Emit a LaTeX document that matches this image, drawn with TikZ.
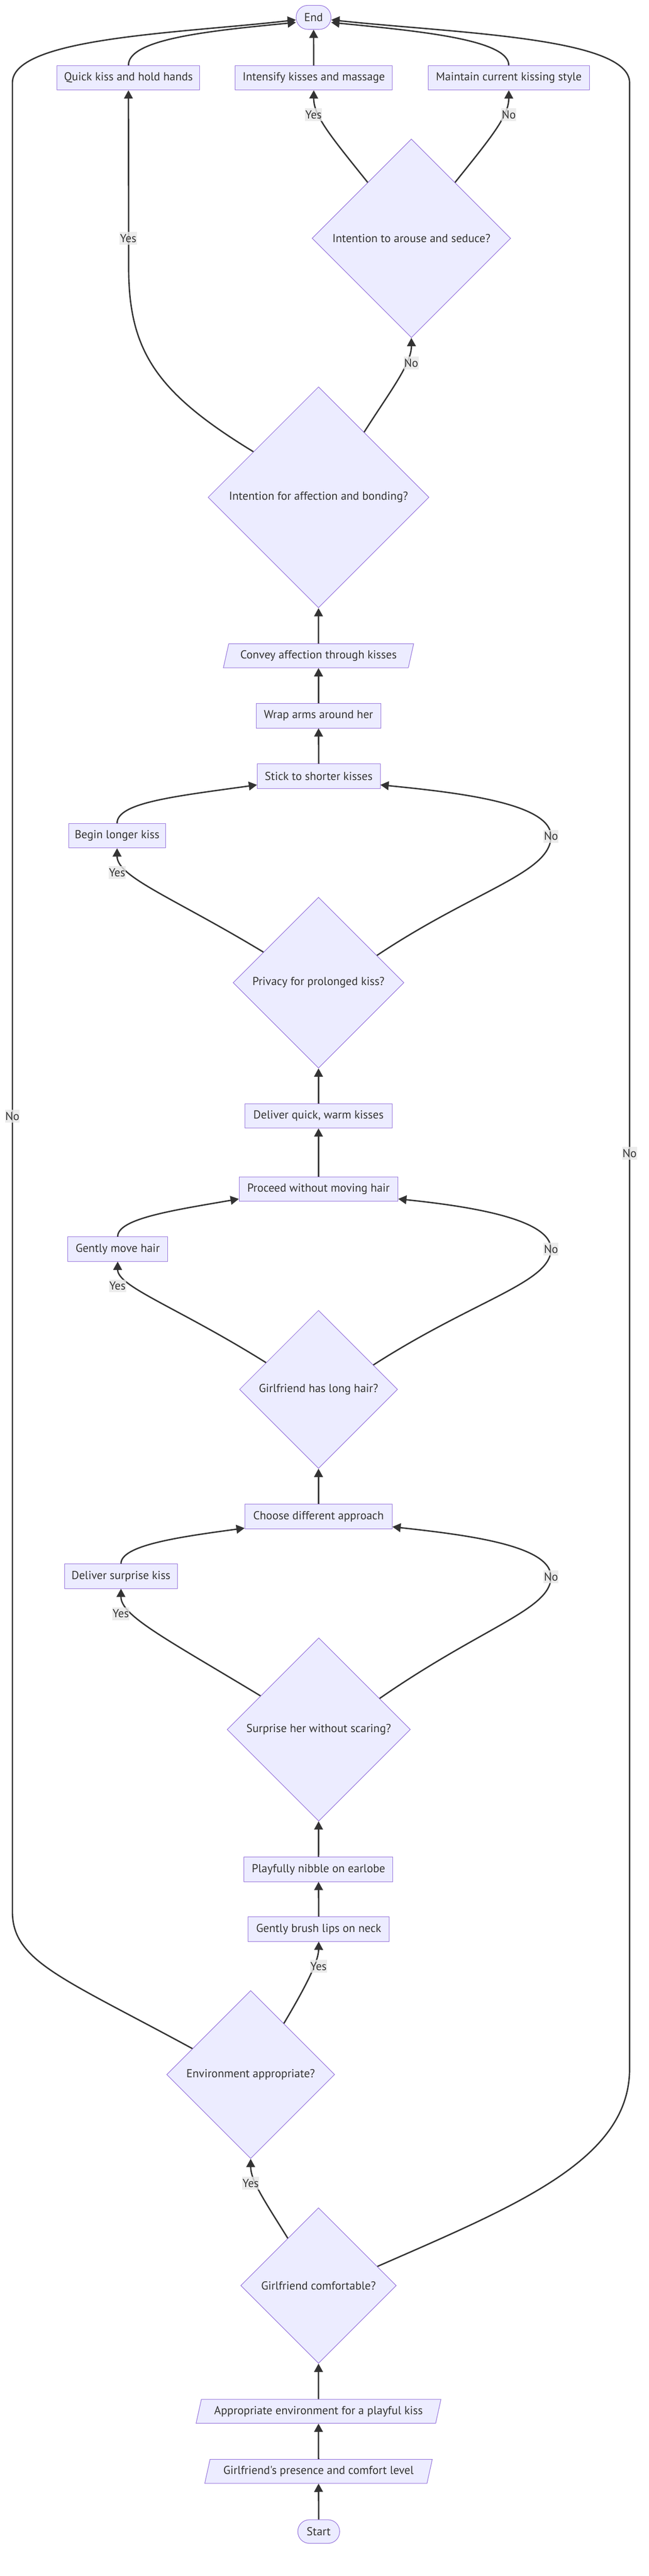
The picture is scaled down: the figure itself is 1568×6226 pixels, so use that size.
\documentclass[tikz,border=0pt]{standalone}
\usepackage{fontspec}
\setmainfont{PT Sans}[Ligatures=TeXOff]
\usetikzlibrary{shapes.geometric,arrows.meta}
\definecolor{nodefill}{HTML}{ECECFF}
\definecolor{nodeline}{HTML}{9370DB}
\definecolor{edgecol}{HTML}{333333}
\definecolor{txt}{HTML}{333333}
\definecolor{lblbg}{HTML}{E8E8E8}
\begin{document}
\begin{tikzpicture}[x=1pt,y=-1pt,
  every node/.style={font=\fontsize{28}{34}\selectfont, text=txt},
  box/.style={rectangle, draw=nodeline, fill=nodefill, line width=1.3pt, minimum height=59pt, inner sep=0pt},
  term/.style={box, rounded corners=28pt, minimum height=58pt},
  para/.style={trapezium, trapezium left angle=63.4, trapezium right angle=116.6, trapezium stretches body, draw=nodeline, fill=nodefill, line width=1.3pt, minimum height=58pt, inner sep=0pt},
  dec/.style={diamond, aspect=1, draw=nodeline, fill=nodefill, line width=1.3pt, inner sep=0pt},
  arr/.style={draw=edgecol, line width=3.3pt, -{Triangle[length=20pt,width=21pt]}},
  lbl/.style={fill=lblbg, fill opacity=0.8, text opacity=1, inner xsep=1pt, inner ysep=0pt, minimum height=31pt}
]
\fill[white] (0,0) rectangle (1568,6226);
\useasboundingbox (0,0) rectangle (1568,6226);

% nodes
\node[term, minimum width=84pt] (end) at (758,42) {End};
\node[box, minimum width=345pt] (qk) at (310.5,188) {Quick kiss and hold hands};
\node[box, minimum width=379pt] (int) at (758.5,188) {Intensify kisses and massage};
\node[box, minimum width=390pt] (mt) at (1230,188) {Maintain current kissing style};
\node[dec, minimum width=480pt, minimum height=480pt] (ar) at (994.5,576) {Intention to arouse and seduce?};
\node[dec, minimum width=534pt, minimum height=534pt] (aff) at (770,1202) {Intention for affection and bonding?};
\node[para, minimum width=460pt] (conv) at (770,1585) {Convey affection through kisses};
\node[box, minimum width=302pt] (wrap) at (770,1730) {Wrap arms around her};
\node[box, minimum width=297pt] (stick) at (770.5,1876) {Stick to shorter kisses};
\node[box, minimum width=234pt] (bl) at (283,2020) {Begin longer kiss};
\node[dec, minimum width=413pt, minimum height=413pt] (priv) at (770,2375) {Privacy for prolonged kiss?};
\node[box, minimum width=356pt] (dq) at (770,2697) {Deliver quick, warm kisses};
\node[box, minimum width=384pt] (proc) at (770,2874) {Proceed without moving hair};
\node[box, minimum width=241pt] (gm) at (284.5,3019) {Gently move hair};
\node[dec, minimum width=382pt, minimum height=382pt] (lh) at (770,3358) {Girlfriend has long hair?};
\node[box, minimum width=356pt] (choose) at (770,3665) {Choose different approach};
\node[box, minimum width=273pt] (ds) at (292.5,3809.5) {Deliver surprise kiss};
\node[dec, minimum width=443pt, minimum height=443pt] (surp) at (770.5,4180) {Surprise her without scaring?};
\node[box, minimum width=360pt] (nib) at (770,4518) {Playfully nibble on earlobe};
\node[box, minimum width=341pt] (brush) at (770.5,4662.5) {Gently brush lips on neck};
\node[dec, minimum width=406pt, minimum height=406pt] (env) at (606,5014) {Environment appropriate?};
\node[dec, minimum width=376pt, minimum height=376pt] (comf) at (770,5524) {Girlfriend comfortable?};
\node[para, minimum width=592pt] (appr) at (770,5828) {Appropriate environment for a playful kiss};
\node[para, minimum width=550pt] (pres) at (770,5973) {Girlfriend's presence and comfort level};
\node[term, minimum width=101pt, minimum height=57pt] (start) at (770.5,6118.5) {Start};

% edges
\draw[arr] (start) -- (pres);
\draw[arr] (pres) -- (appr);
\draw[arr] (appr) -- (comf);
\draw[arr] (comf.123) .. controls (640,5320) and (606,5270) .. (env.south);
\draw[arr] (comf.18) .. controls (1250,5330) and (1522,5220) .. (1522,5000) -- (1522,200) .. controls (1522,90) and (1100,80) .. (end.352);
\draw[arr] (env.156) .. controls (150,4780) and (30,4740) .. (30,4620) -- (30,200) .. controls (30,90) and (440,80) .. (end.188);
\draw[arr] (env.57) .. controls (740,4800) and (770,4740) .. (brush.south);
\draw[arr] (brush) -- (nib);
\draw[arr] (nib) -- (surp);
\draw[arr] (surp.150) .. controls (400,3960) and (292,3905) .. (ds.south);
\draw[arr] (surp.27) .. controls (1170,3930) and (1332,3890) .. (1332,3811) .. controls (1332,3735) and (1130,3710) .. (choose.352);
\draw[arr] (ds.north) .. controls (292,3735) and (430,3715) .. (choose.189);
\draw[arr] (choose) -- (lh);
\draw[arr] (lh.153) .. controls (430,3160) and (284,3110) .. (gm.south);
\draw[arr] (lh.24) .. controls (1150,3140) and (1332,3100) .. (1332,3019) .. controls (1332,2945) and (1130,2915) .. (proc.353);
\draw[arr] (gm.north) .. controls (284,2945) and (420,2925) .. (proc.187);
\draw[arr] (proc) -- (dq);
\draw[arr] (dq) -- (priv);
\draw[arr] (priv.151) .. controls (420,2170) and (283,2120) .. (bl.south);
\draw[arr] (priv.25) .. controls (1150,2150) and (1332,2110) .. (1332,2021) .. controls (1332,1940) and (1100,1915) .. (stick.352);
\draw[arr] (bl.north) .. controls (283,1940) and (420,1925) .. (stick.188);
\draw[arr] (stick) -- (wrap);
\draw[arr] (wrap) -- (conv);
\draw[arr] (conv) -- (aff);
\draw[arr] (aff.145) .. controls (380,950) and (312,850) .. (311,650) -- (qk.south);
\draw[arr] (aff.55) .. controls (940,950) and (995,880) .. (ar.south);
\draw[arr] (ar.128) .. controls (800,330) and (758,280) .. (int.south);
\draw[arr] (ar.52) .. controls (1189,330) and (1230,280) .. (mt.south);
\draw[arr] (int) -- (end);
\draw[arr] (qk.north) .. controls (310,95) and (500,75) .. (end.196);
\draw[arr] (mt.north) .. controls (1230,95) and (1010,75) .. (end.344);

% labels
\node[lbl] (l1) at (758,277) {Yes};
\node[lbl] (l2) at (1230,277) {No};
\node[lbl] (l3) at (310,576) {Yes};
\node[lbl] (l4) at (994,877) {No};
\node[lbl] (l5) at (283,2109) {Yes};
\node[lbl] (l6) at (1332,2021) {No};
\node[lbl] (l7) at (30,2698) {No};
\node[lbl] (l8) at (1522,2787) {No};
\node[lbl] (l9) at (284,3108) {Yes};
\node[lbl] (l10) at (1332,3019) {No};
\node[lbl] (l11) at (292,3900) {Yes};
\node[lbl] (l12) at (1332,3811) {No};
\node[lbl] (l13) at (770,4752) {Yes};
\node[lbl] (l14) at (606,5277) {Yes};
\end{tikzpicture}
\end{document}
